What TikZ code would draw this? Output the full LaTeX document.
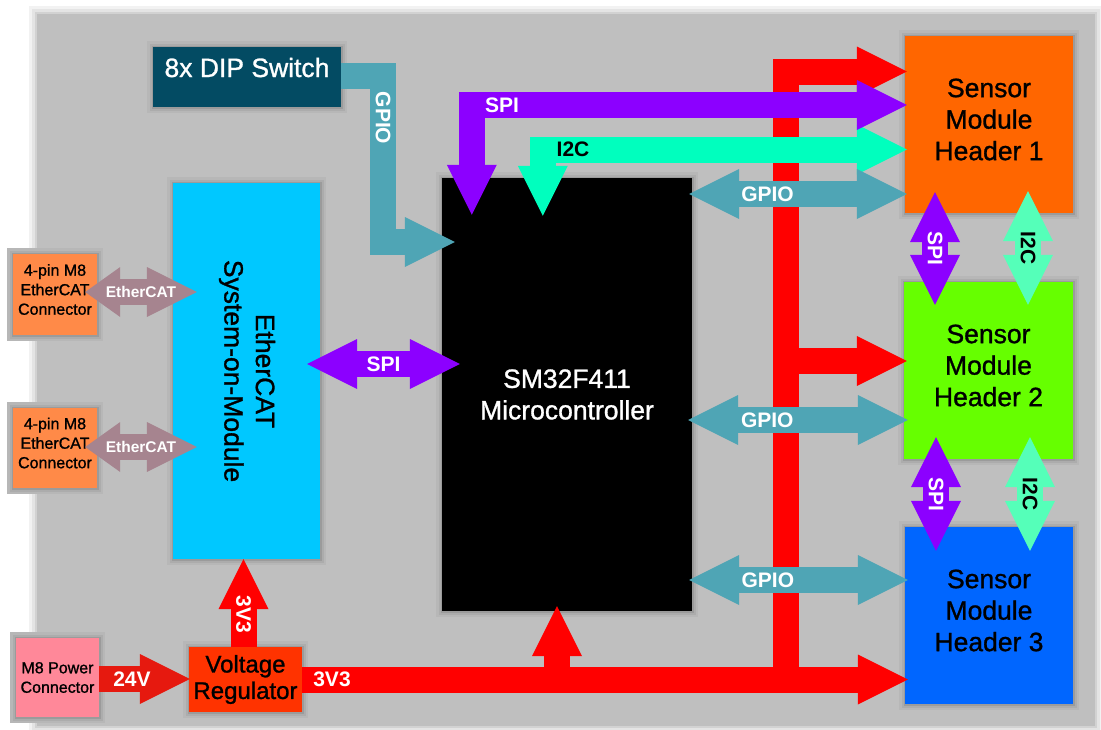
\documentclass[tikz,border=0pt]{standalone}
\usepackage{fontspec}
\usepackage{graphicx}
\setmainfont{Liberation Sans}[FakeBold=1.1]
\usetikzlibrary{arrows.meta,calc}
\definecolor{panelc}{RGB}{191,191,191}
\definecolor{dipc}{RGB}{3,75,99}
\definecolor{gpioc}{RGB}{79,165,181}
\definecolor{spic}{RGB}{140,0,255}
\definecolor{i2cc}{RGB}{0,255,190}
\definecolor{i2cv}{RGB}{85,255,185}
\definecolor{redc}{RGB}{255,0,0}
\definecolor{v24c}{RGB}{230,25,15}
\definecolor{ethc}{RGB}{166,132,143}
\definecolor{somc}{RGB}{0,200,255}
\definecolor{honec}{RGB}{255,102,0}
\definecolor{htwoc}{RGB}{102,255,0}
\definecolor{hthreec}{RGB}{0,102,255}
\definecolor{regc}{RGB}{255,51,0}
\definecolor{conc}{RGB}{255,138,72}
\definecolor{pwc}{RGB}{255,136,153}
\definecolor{shA}{RGB}{183,183,183}
\definecolor{shB}{RGB}{172,172,172}
\definecolor{shC}{RGB}{155,155,155}
\definecolor{psA}{RGB}{242,242,242}
\definecolor{psB}{RGB}{228,228,228}
\definecolor{psC}{RGB}{210,210,210}
\newfontfamily\lblfont{Liberation Sans}
\newcommand\fBig{\fontsize{26.5pt}{31.5pt}\selectfont}
\newcommand\fLbl{\lblfont\fontsize{21pt}{25pt}\selectfont\bfseries}
\newcommand\fSm{\lblfont\fontsize{15.5pt}{18pt}\selectfont\bfseries}
\newcommand\fConn{\fontsize{16pt}{19.5pt}\selectfont}
\newcommand\fReg{\fontsize{24pt}{26.5pt}\selectfont}
\begin{document}
\begin{tikzpicture}[x=1pt,y=-1pt,
  glow/.style={preaction={draw=shA, line width=12pt},
               preaction={draw=shB, line width=7pt},
               preaction={draw=shC, line width=3pt}},
  pglow/.style={preaction={draw=psA, line width=16pt},
               preaction={draw=psB, line width=10pt},
               preaction={draw=psC, line width=4pt}},
  box/.style={draw=none, inner sep=0pt, align=center, glow},
  fat/.style={line width=26pt, line join=miter},
  lbl/.style={font=\fLbl, text=white, inner sep=0pt},
  lblsm/.style={font=\fSm, text=white, inner sep=0pt},
  single/.style={fat, -{Triangle[length=50pt,width=50pt,line width=0pt]}},
  double/.style={fat, {Triangle[length=50pt,width=50pt,line width=0pt]}-{Triangle[length=50pt,width=50pt,line width=0pt]}},
  intext/.style={font=\fBig, align=center, yshift=5pt}
]
\useasboundingbox (0,0) rectangle (1101,729);
\fill[white] (0,0) rectangle (1101,729);
% panel
\fill[panelc, pglow] (37,14) rectangle (1095,726);

% blocks
\node[box, fill=dipc, text=white, font=\fBig, minimum width=188pt, minimum height=60pt, text height=19pt, text depth=19pt] (dip) at (247,77) {8x DIP Switch};
\node[box, fill=somc, font=\fBig, minimum width=147pt, minimum height=376pt] (som) at (246.5,371)
  {\rotatebox{-90}{\begin{tabular}{@{}c@{}}EtherCAT\\System-on-Module\end{tabular}}};
\node[box, fill=black, text=white, font=\fBig, minimum width=250pt, minimum height=433pt] (mcu) at (567,394.5) {SM32F411\\Microcontroller};
\node[box, fill=honec, minimum width=168pt, minimum height=177pt, label={[intext]center:Sensor\\Module\\Header 1}] (h1) at (989,124.5) {};
\node[box, fill=htwoc, minimum width=169pt, minimum height=177pt, label={[intext]center:Sensor\\Module\\Header 2}] (h2) at (988.5,370.5) {};
\node[box, fill=hthreec, minimum width=168pt, minimum height=177pt, label={[intext]center:Sensor\\Module\\Header 3}] (h3) at (989,615.5) {};
\node[box, fill=conc, minimum width=84pt, minimum height=81pt, label={[font=\fConn, align=center, yshift=5pt]center:4-pin M8\\EtherCAT\\Connector}] (c1) at (55,294.5) {};
\node[box, fill=conc, minimum width=84pt, minimum height=80pt, label={[font=\fConn, align=center, yshift=5pt]center:4-pin M8\\EtherCAT\\Connector}] (c2) at (55,448) {};
\node[box, fill=pwc, font=\fConn, minimum width=83pt, minimum height=79pt] (pw) at (57.5,677.5) {M8 Power\\Connector};
\node[box, fill=regc, font=\fReg, minimum width=113pt, minimum height=65pt] (reg) at (245.5,679.5) {Voltage\\Regulator};

% power (red)
\coordinate (bus) at (785.5,679.5);
\draw[single, redc] (bus) -- (785.5,71.5) -- ($(h1.west)+(2,-53)$);
\draw[single, redc] (785.5,361) -- ($(h2.west)+(3,-9.5)$);
\draw[single, redc] (reg.east) -- ($(reg.east -| h3.west)+(3,0)$);
\draw[single, redc] (557,679.5) -- ($(mcu.south)+(-10,-5)$);
\draw[single, redc] ($(reg.north)+(-2,0)$) -- ($(som.south)+(-3,0)$);
\draw[single, v24c] ($(pw.east)+(0,1.5)$) -- ($(reg.west)+(1,-0.5)$);
\node[lbl] at (332,679) {3V3};
\node[lbl, rotate=-90] at (243.5,614) {3V3};
\node[lbl] at (132,679) {24V};

% EtherCAT
\draw[fat, ethc, {Triangle[length=35pt,width=50pt,line width=0pt]}-{Triangle[length=50pt,width=50pt,line width=0pt]}]
  ($(c1.east)+(-12,-2.5)$) -- ($(som.west)+(24,-79)$) node[midway, lblsm] {EtherCAT};
\draw[fat, ethc, {Triangle[length=35pt,width=50pt,line width=0pt]}-{Triangle[length=50pt,width=50pt,line width=0pt]}]
  ($(c2.east)+(-12,-1)$) -- ($(som.west)+(24,76)$) node[midway, lblsm] {EtherCAT};

% SPI SoM-MCU
\draw[double, spic] ($(som.east)+(-13,-7)$) -- ($(mcu.west)+(18,-30.5)$) node[midway, lbl] {SPI};

% DIP GPIO
\draw[single, gpioc] ($(dip.east)+(0,-1.5)$) -- ++(41.5,0) |- ($(mcu.west)+(13,-152.5)$);
\node[lbl, rotate=-90] at (383,118) {GPIO};

% I2C and SPI to header 1
\draw[double, i2cc] ($(mcu.north west)+(101,38)$) |- ($(h1.west)+(2,25)$);
\node[lbl, text=black] at (573,149) {I2C};
\draw[double, spic] ($(mcu.north west)+(30,37)$) |- ($(h1.west)+(2,-19.5)$);
\node[lbl] at (502,105) {SPI};

% GPIO rows
\draw[double, gpioc] ($(mcu.east)+(-3,-200.5)$) -- ($(h1.west)+(2,69.5)$) node[pos=0.36, lbl] {GPIO};
\draw[double, gpioc] ($(mcu.east)+(-4,25.5)$) -- ($(h2.west)+(4,49.5)$) node[pos=0.36, lbl] {GPIO};
\draw[double, gpioc] ($(mcu.east)+(-3,185.5)$) -- ($(h3.west)+(3,-35.5)$) node[pos=0.36, lbl] {GPIO};

% header to header
\draw[double, spic] ($(h1.south)+(-54,-21)$) -- ($(h2.north)+(-53.5,23)$) node[midway, lbl, rotate=-90] {SPI};
\draw[double, i2cv] ($(h1.south)+(39,-22)$) -- ($(h2.north)+(39.5,23)$) node[midway, lbl, text=black, rotate=-90] {I2C};
\draw[double, spic] ($(h2.south)+(-52.5,-22)$) -- ($(h3.north)+(-53,24)$) node[midway, lbl, rotate=-90] {SPI};
\draw[double, i2cv] ($(h2.south)+(41.5,-22)$) -- ($(h3.north)+(41,24)$) node[midway, lbl, text=black, rotate=-90] {I2C};
\end{tikzpicture}
\end{document}
